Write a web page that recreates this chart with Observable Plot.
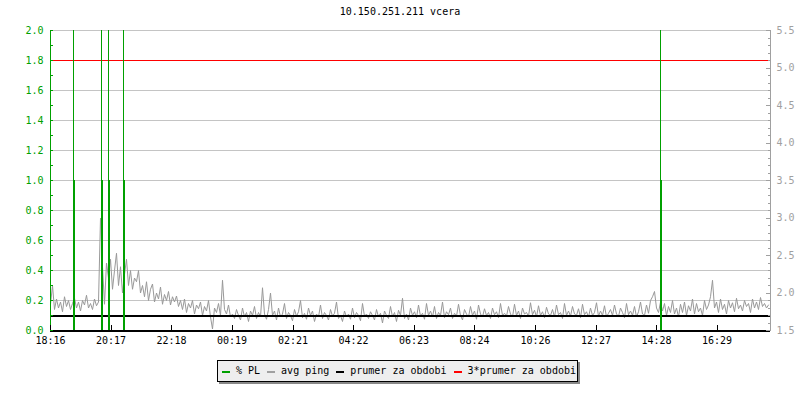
<!DOCTYPE html>
<html>
<head>
<meta charset="utf-8">
<script src="https://cdn.jsdelivr.net/npm/d3@7"></script>
<script src="https://cdn.jsdelivr.net/npm/@observablehq/plot@0.6"></script>
<style>
  html, body { margin: 0; padding: 0; background: #fff; }
  #wrap { position: relative; width: 800px; height: 400px; font-family: "DejaVu Sans Mono", monospace; }
  #title { position: absolute; left: 0; top: 6px; width: 800px; text-align: center; font-size: 10px; color: #000; }
  #legend { position: absolute; left: 217px; top: 360px; width: 361px; height: 22px; box-sizing: border-box;
            border: 1px solid #000; background: #eeeeee; box-shadow: 2px 2px 0 #888;
            font-size: 10px; line-height: 20px; padding-left: 4px; white-space: nowrap; }
  .sw { display: inline-block; width: 8px; height: 2px; vertical-align: middle; margin-right: 6px; position: relative; top: 1px; }
  .it { margin-right: 7px; }
</style>
</head>
<body>
<div id="wrap">
  <div id="chart"></div>
  <div id="title"></div>
  <div id="legend"></div>
</div>
<script>
// ---- data ----
const titleText = "10.150.251.211 vcera";
const startTime = "18:16";           // first sample / left edge (yesterday)
const spanMinutes = 1440;            // 24 h shown
const pingStepMinutes = 4;           // one ping sample every 4 min
const xTickLabels = ["18:16","20:17","22:18","00:19","02:21","04:22","06:23","08:24","10:26","12:27","14:28","16:29"];

// % PL spikes
const plTimes = ["19:02","19:58","20:12","20:42","14:36"];
const plValues = [1.0, 1.0, 1.0, 1.0, 1.0];
const plPeaks = [2.0, 2.0, 2.0, 2.0, 2.0];

// avg ping (ms)
const avgPing = [
 1.85,2.1,1.78,1.92,1.8,1.88,1.75,1.95,1.82,1.9,1.78,1.86,1.93,1.8,1.88,1.76,1.9,1.84,1.97,1.8,1.86,1.78,1.92,1.83,1.88,
 3.0,2.35,1.85,2.4,
 2.2,2.45,2.05,2.3,2.53,2.1,2.35,2.0,2.25,2.45,2.1,2.3,2.05,2.2,2.15,2.3,2.0,
 2.1,1.95,2.15,1.9,2.05,2.12,1.88,2.0,1.92,2.08,1.85,1.98,1.9,2.02,1.84,1.95,1.88,1.96,1.82,1.9,
 1.78,1.92,1.74,1.86,1.8,1.9,1.72,1.84,1.79,1.88,1.7,1.82,1.76,1.9,1.68,1.52,1.8,1.74,1.86,1.7,2.17,1.78,1.72,1.84,1.68,
 1.72,1.66,1.78,1.7,1.64,1.8,1.68,1.74,1.62,1.76,
 1.7,1.82,1.66,1.74,1.68,2.07,1.72,1.65,1.78,2.0,
 1.7,1.76,1.64,1.8,1.68,1.72,1.86,1.66,1.74,1.7,
 1.63,1.78,1.69,1.75,1.9,1.67,1.73,1.65,1.8,1.7,
 1.76,1.62,1.72,1.68,1.84,1.66,1.74,1.7,1.64,1.78,
 1.69,1.73,1.88,1.66,1.7,1.62,1.76,1.68,1.72,1.65,
 1.8,1.67,1.74,1.7,1.63,1.86,1.69,1.72,1.66,1.75,
 1.7,1.64,1.78,1.68,1.73,1.6,1.76,1.7,1.66,1.82,
 1.68,1.74,1.62,1.77,1.7,1.93,1.66,1.72,1.64,1.8,
 1.7,1.75,1.67,1.84,1.69,1.73,1.65,1.86,1.7,1.76,
 1.68,1.82,1.66,1.74,1.7,1.88,1.67,1.75,1.71,1.8,
 1.66,1.73,1.69,1.85,1.7,1.64,1.78,1.72,1.68,1.82,
 1.7,1.76,1.65,1.84,1.72,1.68,1.79,1.7,1.74,1.66,
 1.8,1.71,1.75,1.67,1.86,1.7,1.73,1.69,1.82,1.72,
 1.68,1.85,1.7,1.76,1.66,1.8,1.72,1.74,1.69,1.87,
 1.71,1.77,1.68,1.83,1.7,1.75,1.67,1.81,1.72,1.7,
 1.78,1.68,1.84,1.71,1.74,1.66,1.86,1.7,1.76,1.69,
 1.82,1.72,1.7,1.79,1.67,1.85,1.71,1.75,1.68,1.8,
 1.7,1.74,1.87,1.69,1.76,1.7,1.83,1.68,1.73,1.78,
 1.7,1.84,1.72,1.69,1.8,1.74,1.67,1.86,1.71,1.76,
 1.7,1.82,1.68,1.75,1.88,1.72,1.7,1.84,1.73,1.9,
 1.95,2.02,1.8,1.74,1.88,
 1.76,1.86,1.7,1.82,1.74,1.9,1.72,1.8,1.68,1.85,
 1.74,1.88,1.7,1.83,1.76,1.92,1.72,1.86,1.75,1.8,
 1.7,1.9,1.78,1.84,1.95,2.17,1.8,1.88,1.74,1.92,
 1.78,1.85,1.72,1.9,1.8,1.87,1.75,1.93,1.79,1.84,
 1.76,1.9,1.82,1.86,1.74,1.92,1.8,1.88,1.78,1.94,
 1.82,1.86,1.8,1.84
];

const prumer = 1.7;                 // average ping for period (ms)
const prumer3 = 5.1;                // 3 * average

// axes
const leftMajor = [0,0.2,0.4,0.6,0.8,1.0,1.2,1.4,1.6,1.8,2.0];
const leftMinor = [0.1,0.3,0.5,0.7,0.9,1.1,1.3,1.5,1.7,1.9];
const rightMajor = [1.5,2.0,2.5,3.0,3.5,4.0,4.5,5.0,5.5];
const rightMinor = [1.6,1.7,1.8,1.9,2.1,2.2,2.3,2.4,2.6,2.7,2.8,2.9,3.1,3.2,3.3,3.4,3.6,3.7,3.8,3.9,4.1,4.2,4.3,4.4,4.6,4.7,4.8,4.9,5.1,5.2,5.3,5.4];
const rightMin = 1.5, rightMax = 5.5;   // right axis range (ms)
const leftMin = 0, leftMax = 2.0;       // left axis range (% PL)

const legendItems = [
  {label: "% PL", color: "#00a000"},
  {label: "avg ping", color: "#a0a0a0"},
  {label: "prumer za obdobi", color: "#000000"},
  {label: "3*prumer za obdobi", color: "#ff0000"}
];

// ---- helpers ----
const MIN = 60000;
const [sh, sm] = startTime.split(":").map(Number);
const t0 = Date.UTC(2024, 0, 1, sh, sm);
function hhmmToDate(s) {
  const [h, m] = s.split(":").map(Number);
  let t = Date.UTC(2024, 0, 1, h, m);
  if (t < t0) t += 1440 * MIN;
  return new Date(t);
}
const toLeft = ms => leftMin + (ms - rightMin) * (leftMax - leftMin) / (rightMax - rightMin);
const xStart = new Date(t0), xEnd = new Date(t0 + spanMinutes * MIN);

const pingData = avgPing.map((v, i) => ({t: new Date(t0 + i * pingStepMinutes * MIN), v}));
const plData = plTimes.map((s, i) => ({t: hhmmToDate(s), v: plValues[i], p: plPeaks[i]}));
const xTicks = xTickLabels.map(hhmmToDate);
const fmt = d3.utcFormat("%H:%M");

const GREEN = "#00a000", GREY = "#a0a0a0";
const crisp = {shapeRendering: "crispEdges"};

const chart = Plot.plot({
  width: 800, height: 400,
  marginTop: 30, marginBottom: 70, marginLeft: 50, marginRight: 30,
  style: {fontFamily: "DejaVu Sans Mono, monospace", fontSize: "10px", background: "#fff"},
  x: {type: "utc", domain: [xStart, xEnd]},
  y: {domain: [leftMin, leftMax]},
  marks: [
    Plot.ruleY(leftMajor.filter(d => d > 0), {stroke: "#c4c4c4", strokeWidth: 1, ...crisp}),
    Plot.line(pingData, {x: "t", y: d => toLeft(d.v), stroke: "#999999", strokeWidth: 1}),
    Plot.ruleY([toLeft(prumer3)], {stroke: "#ff0000", strokeWidth: 1, ...crisp}),
    Plot.ruleY([toLeft(prumer)], {stroke: "#000", strokeWidth: 2, ...crisp}),
    Plot.ruleX(plData, {x: "t", y1: 0, y2: "p", stroke: GREEN, strokeWidth: 1, ...crisp}),
    Plot.ruleX(plData, {x: "t", y1: 0, y2: "v", stroke: GREEN, strokeWidth: 2, ...crisp}),
    // axis lines
    Plot.ruleX([xStart], {stroke: GREEN, strokeWidth: 1, ...crisp}),
    Plot.ruleX([xEnd], {stroke: GREY, strokeWidth: 1, ...crisp}),
    Plot.ruleY([leftMin], {stroke: "#000", strokeWidth: 2, ...crisp}),
    // left axis
    Plot.axisY(leftMinor.concat(leftMajor), {anchor: "left", tickSize: -3, stroke: GREEN, tickFormat: () => "", label: null, ...crisp}),
    Plot.axisY(leftMajor, {anchor: "left", tickSize: 0, tickPadding: 7, fill: GREEN, tickFormat: d => d.toFixed(1), label: null}),
    // right axis
    Plot.axisY(rightMinor.map(toLeft), {anchor: "right", tickSize: -3, stroke: GREY, tickFormat: () => "", label: null, ...crisp}),
    Plot.axisY(rightMajor.map(toLeft), {anchor: "right", tickSize: -5, stroke: GREY, tickFormat: () => "", label: null, ...crisp}),
    Plot.axisY(rightMajor.map(toLeft), {anchor: "right", tickSize: 0, tickPadding: 6, fill: GREY, tickFormat: d => (rightMin + (d - leftMin) * (rightMax - rightMin) / (leftMax - leftMin)).toFixed(1), label: null}),
    // bottom axis
    Plot.axisX(xTicks, {anchor: "bottom", tickSize: -5, stroke: "#000", tickFormat: () => "", label: null, ...crisp}),
    Plot.axisX(xTicks, {anchor: "bottom", tickSize: 0, tickPadding: 6, fill: "#000", tickFormat: fmt, label: null})
  ]
});
document.getElementById("chart").appendChild(chart);
document.getElementById("title").textContent = titleText;

const leg = document.getElementById("legend");
legendItems.forEach(it => {
  const sw = document.createElement("span");
  sw.className = "sw"; sw.style.background = it.color;
  const tx = document.createElement("span");
  tx.className = "it"; tx.textContent = it.label;
  leg.appendChild(sw); leg.appendChild(tx);
});
</script>
</body>
</html>
